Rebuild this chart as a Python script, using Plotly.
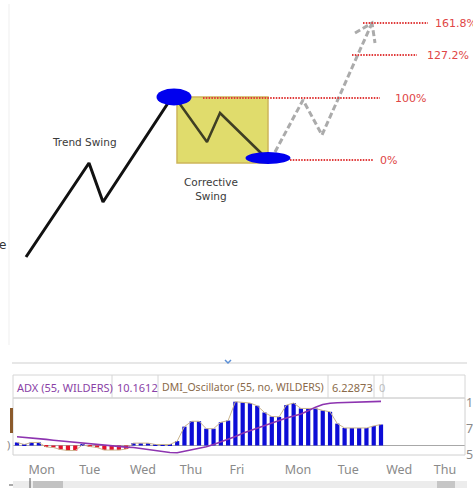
import plotly.graph_objects as go

W, H = 473, 488

# ---------------- top diagram (diagram units on a 473 x 488 canvas axis) ----------------
trend_x = [26, 89, 103, 172]
trend_y = [257, 163, 202, 97]
corr_x = [177, 207, 220, 262]
corr_y = [100, 142, 113, 154]
proj_x = [275, 303, 322, 372]
proj_y = [152, 100, 135, 23]
arrow_x = [355, 372, 375]
arrow_y = [33, 23, 43]
swing_high = [174, 97]
swing_low = [268, 158]
fib_labels = ["161.8%", "127.2%", "100%", "0%"]
fib_y = [23, 55, 98, 160]
fib_x0 = [363, 352, 203, 290]
fib_x1 = [428, 417, 380, 373]
fib_label_x = [433, 425, 393, 378]

# ---------------- bottom indicator panel ----------------
osc_vals = [0.9, 0.3, 0.9, 0.9, -0.45, -0.6, -1.2, -1.5, -1.5, 0.2,
            -0.3, -0.6, -1.35, -1.35, -1.35, -1.05, 0.7, 0.7, 0.7, 0.3,
            0.4, 0.3, 1.3, 5.6, 7.2, 7.2, 5.0, 5.0, 6.9, 7.4,
            13.0, 12.8, 12.6, 11.8, 9.8, 8.6, 8.5, 12.0, 12.6, 11.0,
            10.9, 11.0, 10.4, 10.0, 6.5, 5.2, 5.2, 5.2, 5.2, 5.8, 6.23]
adx_vals = [6.75, 6.7, 6.62, 6.56, 6.5, 6.42, 6.35, 6.28, 6.2, 6.12,
            6.05, 5.98, 5.92, 5.86, 5.8, 5.76, 5.72, 5.62, 5.5, 5.4,
            5.3, 5.24, 5.22, 5.35, 5.5, 5.62, 5.8, 6.02, 6.25, 6.5,
            6.78, 7.1, 7.35, 7.6, 7.85, 8.1, 8.35, 8.55, 8.75, 8.95,
            9.25, 9.6, 9.85, 9.98, 10.02, 10.04, 10.05, 10.06, 10.08, 10.11, 10.16]
day_labels = ["Mon", "Tue", "Wed", "Thu", "Fri", "Mon", "Tue", "Wed", "Thu"]
day_pos = [3.4, 10.0, 17.3, 23.9, 30.2, 38.6, 45.5, 52.5, 58.8]
adx_ticks = [5, 7.5, 10]
header_parts = ["ADX (55, WILDERS)", "10.1612", "DMI_Oscillator (55, no, WILDERS)", "6.22873", "0"]

bar_idx = list(range(len(osc_vals)))

fig = go.Figure()

# trend swing
fig.add_trace(go.Scatter(x=trend_x, y=trend_y, mode="lines", xaxis="x3", yaxis="y3",
                         line=dict(color="#111111", width=3), hoverinfo="skip"))
# corrective swing
fig.add_trace(go.Scatter(x=corr_x, y=corr_y, mode="lines", xaxis="x3", yaxis="y3",
                         line=dict(color="#3f3f24", width=2.5), hoverinfo="skip"))
# projected swing
fig.add_trace(go.Scatter(x=proj_x, y=proj_y, mode="lines", xaxis="x3", yaxis="y3",
                         line=dict(color="#ababab", width=3, dash="6px,3px"), hoverinfo="skip"))
fig.add_trace(go.Scatter(x=arrow_x, y=arrow_y, mode="lines", xaxis="x3", yaxis="y3",
                         line=dict(color="#ababab", width=3, dash="6px,3px"), hoverinfo="skip"))
# fib levels
for lab, fy, a, b, lx in zip(fib_labels, fib_y, fib_x0, fib_x1, fib_label_x):
    fig.add_trace(go.Scatter(x=[a, b], y=[fy, fy], mode="lines", xaxis="x3", yaxis="y3",
                             line=dict(color="#e03a3a", width=2, dash="1.5px,1.3px"), hoverinfo="skip"))

# oscillator bars
bar_colors = ["#0c0cd6" if v >= 0 else "#e3122b" for v in osc_vals]
fig.add_trace(go.Bar(x=bar_idx, y=osc_vals, marker=dict(color=bar_colors, line=dict(width=0)),
                     xaxis="x", yaxis="y", hoverinfo="skip"))
fig.add_trace(go.Scatter(x=bar_idx, y=osc_vals, mode="lines", xaxis="x", yaxis="y",
                         line=dict(color="#c9b48e", width=1), hoverinfo="skip"))
fig.add_trace(go.Scatter(x=bar_idx, y=adx_vals, mode="lines", xaxis="x", yaxis="y2",
                         line=dict(color="#8d34b0", width=1.6), hoverinfo="skip"))

shapes = []
annos = []

def px_rect(x0, y0, x1, y1, fill, line=None, lw=0, layer="above"):
    shapes.append(dict(type="rect", xref="x3", yref="y3", x0=x0, y0=y0, x1=x1, y1=y1,
                       fillcolor=fill, line=dict(color=line or fill, width=lw), layer=layer))

def px_line(x0, y0, x1, y1, color, lw=1, layer="above"):
    shapes.append(dict(type="line", xref="x3", yref="y3", x0=x0, y0=y0, x1=x1, y1=y1,
                       line=dict(color=color, width=lw), layer=layer))

# faint frame of the top image
px_line(9, 4, 9, 345, "#efefef", 1, "below")

# corrective box (spans swing high -> swing low)
px_rect(swing_high[0] + 3, swing_high[1], swing_low[0], swing_low[1] + 5, "#e0dc6c", "#cdb55a", 1.5, "below")

# swing ellipses
for (cx, cy), (w, h) in zip([swing_high, swing_low], [(35, 17), (45, 12)]):
    shapes.append(dict(type="circle", xref="x3", yref="y3", x0=cx - w / 2, x1=cx + w / 2,
                       y0=cy - h / 2, y1=cy + h / 2, fillcolor="#0000ee",
                       line=dict(color="#0000ee", width=0), layer="above"))

txt_font = dict(family="DejaVu Sans, Verdana, sans-serif", size=10.5, color="#3a3a3a")
annos.append(dict(x=84, y=142, xref="x3", yref="y3", text="Trend Swing", showarrow=False, font=txt_font))
annos.append(dict(x=211, y=189, xref="x3", yref="y3", text="Corrective<br>Swing", showarrow=False,
                  font=txt_font))
annos.append(dict(x=8, y=245, xref="x3", yref="y3", text="e", showarrow=False, xanchor="right",
                  font=dict(family="DejaVu Sans, sans-serif", size=12, color="#333333")))
for lab, fy, lx in zip(fib_labels, fib_y, fib_label_x):
    annos.append(dict(x=lx, y=fy, xref="x3", yref="y3", text=lab, showarrow=False, xanchor="left",
                      font=dict(family="DejaVu Sans, Verdana, sans-serif", size=11, color="#e04646")))

# ---------- bottom panel chrome ----------
px_line(12, 363, 467, 363, "#cfcfcf", 1)
shapes.append(dict(type="path", xref="x3", yref="y3", path="M 225 360 L 228 363 L 231 360",
                   line=dict(color="#5b8fd6", width=1.5), layer="above"))
px_rect(13, 375, 465, 398, "rgba(0,0,0,0)", "#d6d6d6", 1)
for sx in [112, 158, 328, 374, 383]:
    px_line(sx, 375, sx, 398, "#d6d6d6", 1)
px_rect(13, 398, 465, 455, "rgba(0,0,0,0)", "#d0d0d0", 1, "below")
px_rect(10, 408, 13, 433, "#8b5a2b")
# scrollbar
px_rect(13, 481, 467, 488, "#ececec")
px_rect(33, 481, 63, 488, "#c2c2c2")
px_rect(437, 481, 455, 488, "#c6c6c6")
px_line(30, 478, 30, 488, "#555555", 1)
px_line(9, 485, 13, 485, "#555555", 1)

hdr_font = "Noto Sans, Roboto, sans-serif"
hdr_x = [15, 115, 160, 330, 377]
hdr_col = ["#8a3fa6", "#8a3fa6", "#8a6a4a", "#8a6a4a", "#bdbdbd"]
hdr_size = [11, 11, 10.5, 11, 11]
for t, hx, c, s in zip(header_parts, hdr_x, hdr_col, hdr_size):
    annos.append(dict(x=hx, y=387, xref="x3", yref="y3", text=t, showarrow=False, xanchor="left",
                      font=dict(family=hdr_font, size=s, color=c)))
annos.append(dict(x=12, y=444, xref="x3", yref="y3", text=")", showarrow=False, xanchor="right",
                  font=dict(family=hdr_font, size=11, color="#888888")))

x_lo = (13 - 17) / 7.28
x_hi = (465 - 17) / 7.28

fig.update_layout(
    autosize=True,
    margin=dict(l=0, r=0, t=0, b=0, pad=0, autoexpand=False),
    paper_bgcolor="white", plot_bgcolor="rgba(0,0,0,0)",
    showlegend=False, bargap=0.42,
    xaxis=dict(domain=[13 / W, 465 / W], range=[x_lo, x_hi], showgrid=False, zeroline=False,
               showline=False, tickmode="array", tickvals=day_pos, ticktext=day_labels,
               ticks="", tickfont=dict(family=hdr_font, size=12.5, color="#8a8a8a"),
               ticklabelstandoff=5, fixedrange=True, automargin=False),
    yaxis=dict(domain=[1 - 455 / H, 1 - 398 / H], range=[-2.82, 14.1], showgrid=False,
               zeroline=True, zerolinecolor="#a8a8a8", zerolinewidth=1, showticklabels=False,
               fixedrange=True, automargin=False),
    yaxis2=dict(domain=[1 - 455 / H, 1 - 398 / H], overlaying="y", side="right", anchor="x",
                range=[5.0, 10.48], showgrid=False, zeroline=False, tickmode="array",
                tickvals=adx_ticks, ticktext=[str(v) for v in adx_ticks], ticks="",
                tickfont=dict(family=hdr_font, size=12.5, color="#8a8a8a"),
                fixedrange=True, automargin=False),
    xaxis3=dict(domain=[0, 1], range=[0, W], visible=False, fixedrange=True, anchor="y3",
                automargin=False),
    yaxis3=dict(domain=[0, 1], range=[H, 0], visible=False, fixedrange=True, anchor="x3",
                automargin=False),
    shapes=shapes, annotations=annos,
)

fig.write_html("out.html",
               config=dict(displayModeBar=False, responsive=True),
               default_width=f"{W}px;position:absolute;left:0;top:0;overflow:hidden",
               default_height=f"{H}px")
